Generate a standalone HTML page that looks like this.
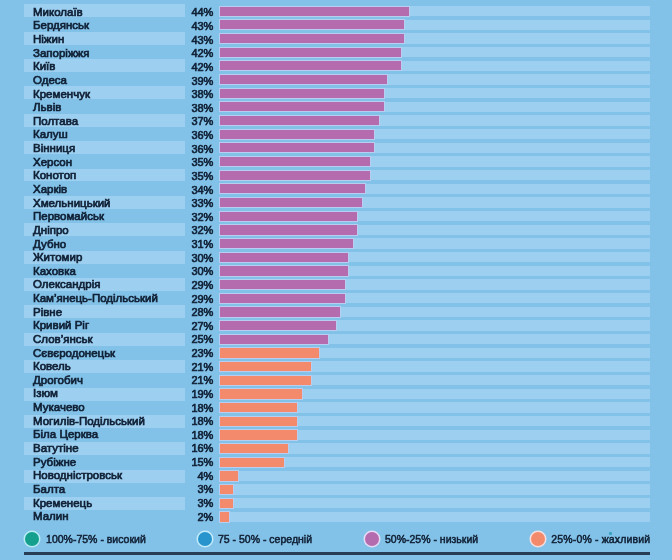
<!DOCTYPE html>
<html><head><meta charset="utf-8">
<style>
html,body{margin:0;padding:0;}
body{width:672px;height:560px;background:#83c2e8;position:relative;overflow:hidden;font-family:"Liberation Sans",sans-serif;color:#102035;}
div{position:absolute;}
.ns{left:24px;width:160.8px;height:12.9px;background:#9dcff0;}
.bs{left:220px;width:429.5px;height:10.2px;background:#9dcff0;}
.bar{left:220.2px;height:9.2px;box-shadow:0 0 0 1px #b9cdf0;}
.nm{left:33px;font-size:11.5px;font-weight:normal;-webkit-text-stroke:0.7px #102035;line-height:14px;white-space:nowrap;transform:scaleY(0.92);transform-origin:0 10.5px;}
.pc{right:459px;font-size:11px;font-weight:normal;-webkit-text-stroke:0.65px #102035;line-height:14px;white-space:nowrap;transform:scaleY(0.95);transform-origin:0 10.5px;letter-spacing:-0.2px;}
.lg{top:532.16px;line-height:14px;font-size:10.5px;font-weight:normal;-webkit-text-stroke:0.5px #102035;white-space:nowrap;}
.dot{width:14.4px;height:14.4px;border-radius:50%;}
.line{left:24px;width:626px;top:552.3px;height:2.7px;background:#263d55;}
#w{left:0;top:0;width:672px;height:560px;background:#83c2e8;filter:blur(0.4px);}
</style></head><body><div id="w">
<div class="ns" style="top:4.30px"></div><div class="bs" style="top:6.00px"></div><div class="bar" style="top:6.60px;width:189.2px;background:#b46cae"></div><div class="bs" style="top:19.67px"></div><div class="bar" style="top:20.27px;width:184.3px;background:#b46cae"></div><div class="ns" style="top:31.68px"></div><div class="bs" style="top:33.34px"></div><div class="bar" style="top:33.94px;width:184.3px;background:#b46cae"></div><div class="bs" style="top:47.01px"></div><div class="bar" style="top:47.61px;width:180.8px;background:#b46cae"></div><div class="ns" style="top:59.06px"></div><div class="bs" style="top:60.68px"></div><div class="bar" style="top:61.28px;width:180.8px;background:#b46cae"></div><div class="bs" style="top:74.35px"></div><div class="bar" style="top:74.95px;width:167.0px;background:#b46cae"></div><div class="ns" style="top:86.44px"></div><div class="bs" style="top:88.02px"></div><div class="bar" style="top:88.62px;width:163.5px;background:#b46cae"></div><div class="bs" style="top:101.69px"></div><div class="bar" style="top:102.29px;width:163.5px;background:#b46cae"></div><div class="ns" style="top:113.82px"></div><div class="bs" style="top:115.36px"></div><div class="bar" style="top:115.96px;width:158.5px;background:#b46cae"></div><div class="bs" style="top:129.03px"></div><div class="bar" style="top:129.63px;width:153.5px;background:#b46cae"></div><div class="ns" style="top:141.20px"></div><div class="bs" style="top:142.70px"></div><div class="bar" style="top:143.30px;width:153.5px;background:#b46cae"></div><div class="bs" style="top:156.37px"></div><div class="bar" style="top:156.97px;width:149.8px;background:#b46cae"></div><div class="ns" style="top:168.58px"></div><div class="bs" style="top:170.04px"></div><div class="bar" style="top:170.64px;width:149.8px;background:#b46cae"></div><div class="bs" style="top:183.71px"></div><div class="bar" style="top:184.31px;width:145.2px;background:#b46cae"></div><div class="ns" style="top:195.96px"></div><div class="bs" style="top:197.38px"></div><div class="bar" style="top:197.98px;width:141.8px;background:#b46cae"></div><div class="bs" style="top:211.05px"></div><div class="bar" style="top:211.65px;width:136.5px;background:#b46cae"></div><div class="ns" style="top:223.34px"></div><div class="bs" style="top:224.72px"></div><div class="bar" style="top:225.32px;width:136.5px;background:#b46cae"></div><div class="bs" style="top:238.39px"></div><div class="bar" style="top:238.99px;width:132.7px;background:#b46cae"></div><div class="ns" style="top:250.72px"></div><div class="bs" style="top:252.06px"></div><div class="bar" style="top:252.66px;width:128.1px;background:#b46cae"></div><div class="bs" style="top:265.73px"></div><div class="bar" style="top:266.33px;width:128.1px;background:#b46cae"></div><div class="ns" style="top:278.10px"></div><div class="bs" style="top:279.40px"></div><div class="bar" style="top:280.00px;width:124.6px;background:#b46cae"></div><div class="bs" style="top:293.07px"></div><div class="bar" style="top:293.67px;width:124.6px;background:#b46cae"></div><div class="ns" style="top:305.48px"></div><div class="bs" style="top:306.74px"></div><div class="bar" style="top:307.34px;width:119.6px;background:#b46cae"></div><div class="bs" style="top:320.41px"></div><div class="bar" style="top:321.01px;width:115.8px;background:#b46cae"></div><div class="ns" style="top:332.86px"></div><div class="bs" style="top:334.08px"></div><div class="bar" style="top:334.68px;width:107.8px;background:#b46cae"></div><div class="bs" style="top:347.75px"></div><div class="bar" style="top:348.35px;width:99.0px;background:#f48a6c"></div><div class="ns" style="top:360.24px"></div><div class="bs" style="top:361.42px"></div><div class="bar" style="top:362.02px;width:90.5px;background:#f48a6c"></div><div class="bs" style="top:375.09px"></div><div class="bar" style="top:375.69px;width:90.5px;background:#f48a6c"></div><div class="ns" style="top:387.62px"></div><div class="bs" style="top:388.76px"></div><div class="bar" style="top:389.36px;width:81.8px;background:#f48a6c"></div><div class="bs" style="top:402.43px"></div><div class="bar" style="top:403.03px;width:77.1px;background:#f48a6c"></div><div class="ns" style="top:415.00px"></div><div class="bs" style="top:416.10px"></div><div class="bar" style="top:416.70px;width:76.9px;background:#f48a6c"></div><div class="bs" style="top:429.77px"></div><div class="bar" style="top:430.37px;width:76.9px;background:#f48a6c"></div><div class="ns" style="top:442.38px"></div><div class="bs" style="top:443.44px"></div><div class="bar" style="top:444.04px;width:68.2px;background:#f48a6c"></div><div class="bs" style="top:457.11px"></div><div class="bar" style="top:457.71px;width:63.9px;background:#f48a6c"></div><div class="ns" style="top:469.76px"></div><div class="bs" style="top:470.78px"></div><div class="bar" style="top:471.38px;width:17.8px;background:#f48a6c"></div><div class="bs" style="top:484.45px"></div><div class="bar" style="top:485.05px;width:13.0px;background:#f48a6c"></div><div class="ns" style="top:497.14px"></div><div class="bs" style="top:498.12px"></div><div class="bar" style="top:498.72px;width:13.0px;background:#f48a6c"></div><div class="bs" style="top:511.79px"></div><div class="bar" style="top:512.39px;width:9.0px;background:#f48a6c"></div>
<div class="nm" style="top:4.82px">Миколаїв</div><div class="pc" style="top:5.49px">44%</div><div class="nm" style="top:18.45px">Бердянськ</div><div class="pc" style="top:19.11px">43%</div><div class="nm" style="top:32.08px">Ніжин</div><div class="pc" style="top:32.74px">43%</div><div class="nm" style="top:45.71px">Запоріжжя</div><div class="pc" style="top:46.36px">42%</div><div class="nm" style="top:59.34px">Київ</div><div class="pc" style="top:59.99px">42%</div><div class="nm" style="top:72.97px">Одеса</div><div class="pc" style="top:73.61px">39%</div><div class="nm" style="top:86.60px">Кременчук</div><div class="pc" style="top:87.24px">38%</div><div class="nm" style="top:100.23px">Львів</div><div class="pc" style="top:100.86px">38%</div><div class="nm" style="top:113.86px">Полтава</div><div class="pc" style="top:114.49px">37%</div><div class="nm" style="top:127.49px">Калуш</div><div class="pc" style="top:128.11px">36%</div><div class="nm" style="top:141.12px">Вінниця</div><div class="pc" style="top:141.74px">36%</div><div class="nm" style="top:154.75px">Херсон</div><div class="pc" style="top:155.36px">35%</div><div class="nm" style="top:168.38px">Конотоп</div><div class="pc" style="top:168.99px">35%</div><div class="nm" style="top:182.01px">Харків</div><div class="pc" style="top:182.61px">34%</div><div class="nm" style="top:195.64px">Хмельницький</div><div class="pc" style="top:196.24px">33%</div><div class="nm" style="top:209.27px">Первомайськ</div><div class="pc" style="top:209.86px">32%</div><div class="nm" style="top:222.90px">Дніпро</div><div class="pc" style="top:223.49px">32%</div><div class="nm" style="top:236.53px">Дубно</div><div class="pc" style="top:237.11px">31%</div><div class="nm" style="top:250.16px">Житомир</div><div class="pc" style="top:250.74px">30%</div><div class="nm" style="top:263.79px">Каховка</div><div class="pc" style="top:264.36px">30%</div><div class="nm" style="top:277.42px">Олександрія</div><div class="pc" style="top:277.99px">29%</div><div class="nm" style="top:291.05px">Кам’янець-Подільський</div><div class="pc" style="top:291.61px">29%</div><div class="nm" style="top:304.68px">Рівне</div><div class="pc" style="top:305.24px">28%</div><div class="nm" style="top:318.31px">Кривий Ріг</div><div class="pc" style="top:318.86px">27%</div><div class="nm" style="top:331.94px">Слов’янськ</div><div class="pc" style="top:332.49px">25%</div><div class="nm" style="top:345.57px">Сєвєродонецьк</div><div class="pc" style="top:346.11px">23%</div><div class="nm" style="top:359.20px">Ковель</div><div class="pc" style="top:359.74px">21%</div><div class="nm" style="top:372.83px">Дрогобич</div><div class="pc" style="top:373.36px">21%</div><div class="nm" style="top:386.46px">Ізюм</div><div class="pc" style="top:386.99px">19%</div><div class="nm" style="top:400.09px">Мукачево</div><div class="pc" style="top:400.61px">18%</div><div class="nm" style="top:413.72px">Могилів-Подільський</div><div class="pc" style="top:414.24px">18%</div><div class="nm" style="top:427.35px">Біла Церква</div><div class="pc" style="top:427.86px">18%</div><div class="nm" style="top:440.98px">Ватутіне</div><div class="pc" style="top:441.49px">16%</div><div class="nm" style="top:454.61px">Рубіжне</div><div class="pc" style="top:455.11px">15%</div><div class="nm" style="top:468.24px">Новодністровськ</div><div class="pc" style="top:468.74px">4%</div><div class="nm" style="top:481.87px">Балта</div><div class="pc" style="top:482.36px">3%</div><div class="nm" style="top:495.50px">Кременець</div><div class="pc" style="top:495.99px">3%</div><div class="nm" style="top:509.13px">Малин</div><div class="pc" style="top:509.61px">2%</div>
<div class="dot" style="left:25.00px;top:531.80px;background:#14a08c;box-shadow:0 0 0 1.5px #b8ecf2"></div>
<div class="lg" style="left:46.1px">100%-75% - високий</div>
<div class="dot" style="left:197.80px;top:531.90px;background:#2794cd;box-shadow:0 0 0 1.5px #c4ecfa"></div>
<div class="lg" style="left:218px">75 - 50% - середній</div>
<div class="dot" style="left:364.60px;top:532.00px;background:#b46cae;box-shadow:0 0 0 1.5px #e6dcf6"></div>
<div class="lg" style="left:385px">50%-25% - низький</div>
<div class="dot" style="left:531.10px;top:531.90px;background:#f48a6c;box-shadow:0 0 0 1.5px #f4e0e0"></div>
<div style="left:608.6px;top:531.8px;width:3.6px;height:3.4px;background:#3aa2c0;border-radius:1px;filter:blur(0.4px)"></div>
<div class="lg" style="left:551.3px;letter-spacing:0.15px">25%-0% - жахливий</div>
<div class="line"></div>
</div></body></html>
